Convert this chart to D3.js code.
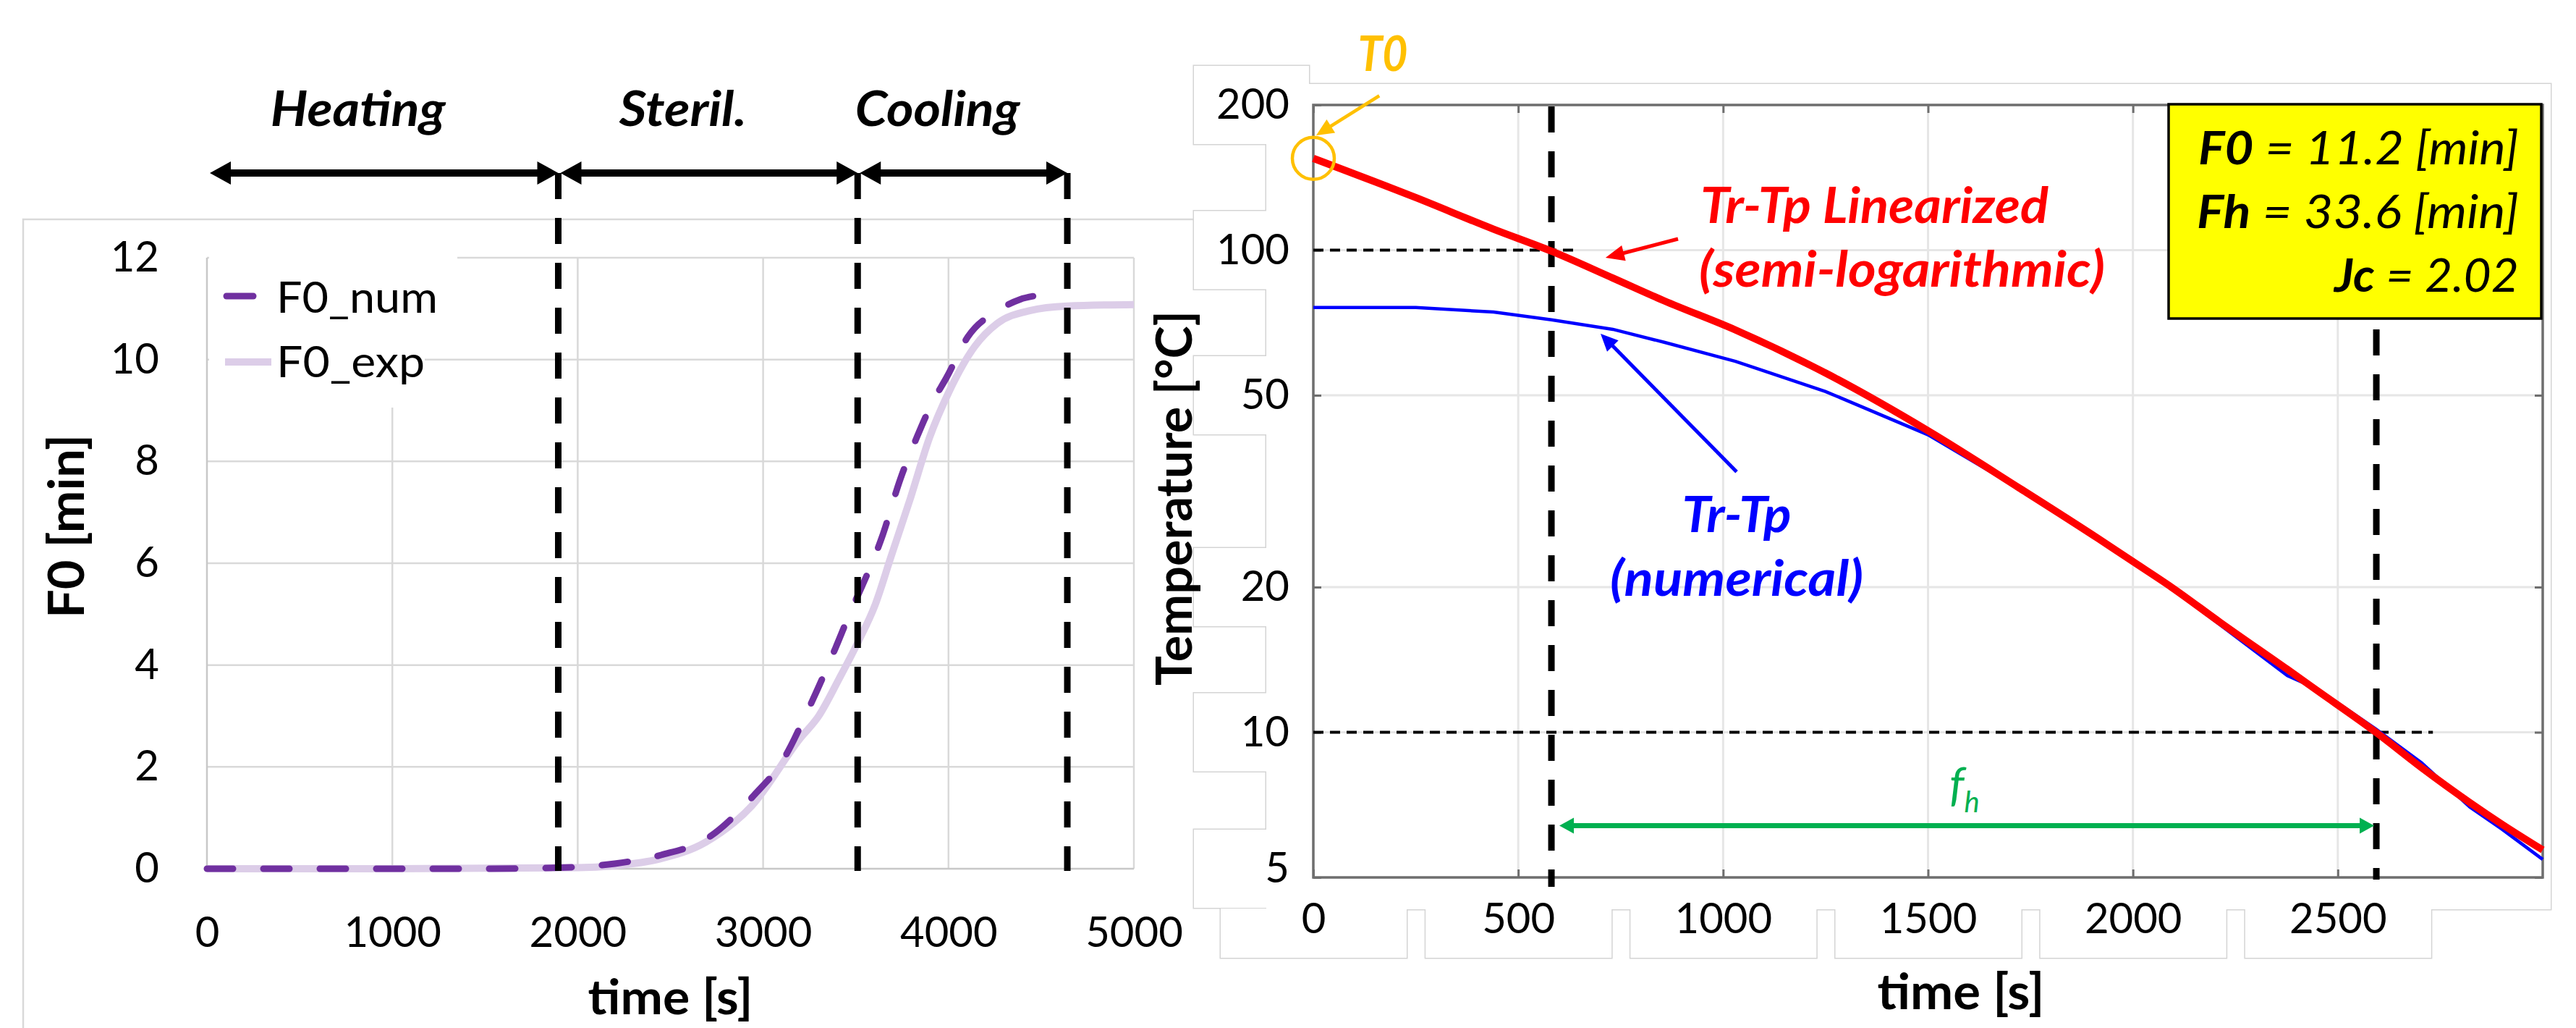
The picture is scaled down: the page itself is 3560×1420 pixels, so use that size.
<!DOCTYPE html>
<html>
<head>
<meta charset="utf-8">
<script src="https://cdn.jsdelivr.net/npm/d3@7"></script>
<style>
  body { margin: 0; background: #fff; }
</style>
</head>
<body>
<div id="chart"></div>
<script>
// ---- left panel data: F0 vs time ----
var numTime = [0, 500, 1000, 1500, 1900, 2200, 2450, 2700, 2950, 3110, 3240, 3390, 3480, 3535, 3640, 3740, 3830, 3915, 3990, 4105, 4265, 4385, 4500, 4610];
var numF0 = [0, 0, 0, 0, 0.02, 0.1, 0.27, 0.6, 1.44, 2.15, 3.1, 4.33, 5.12, 5.56, 6.5, 7.65, 8.48, 9.17, 9.65, 10.45, 10.96, 11.18, 11.27, 11.32];
var expTime = [0, 1000, 2000, 2200, 2440, 2690, 2940, 3200, 3300, 3410, 3516, 3604, 3690, 3795, 3899, 4003, 4142, 4263, 4438, 4641, 5000];
var expF0 = [0, 0, 0.02, 0.06, 0.19, 0.52, 1.24, 2.56, 3.0, 3.73, 4.48, 5.18, 6.13, 7.28, 8.48, 9.37, 10.26, 10.71, 10.96, 11.05, 11.08];
var f0Ticks = [0, 2, 4, 6, 8, 10, 12];
var leftTimeTicks = [0, 1000, 2000, 3000, 4000, 5000];
var phaseNames = ["Heating", "Steril.", "Cooling"];
var phaseBounds = [0, 1895, 3510, 4641];

// ---- right panel data: temperature difference (log) vs time ----
var tempTime = [0, 250, 440, 581, 731, 856, 1030, 1250, 1500, 1723, 1916, 2000, 2094, 2213, 2377, 2450, 2593, 2704, 2822, 2900, 3000];
var linTemp = [155, 128.5, 110.5, 99.5, 87.5, 78.5, 68.3, 55.6, 42.2, 32.1, 25.2, 22.6, 20.0, 16.9, 13.5, 12.2, 10.0, 8.45, 7.15, 6.45, 5.7];
var numTemp = [76, 76, 74.4, 71.7, 68.5, 64.4, 58.8, 50.9, 41.4, 32.0, 25.1, 22.5, 19.9, 16.7, 13.1, 12.3, 10.15, 8.65, 7.0, 6.3, 5.45];
var tempTicks = [5, 10, 20, 50, 100, 200];
var rightTimeTicks = [0, 500, 1000, 1500, 2000, 2500];
var fhBounds = [581, 2594];
var refTemps = [100, 10];
var refEnds = [646, 2732];
var statNames = ["F0", "Fh", "Jc"];
var statValues = [" = 11.2 [min]", " = 33.6 [min]", " = 2.02"];

var font = "Lato, 'Open Sans', sans-serif";

var svg = d3.select("#chart").append("svg")
  .attr("width", 3560)
  .attr("height", 1420)
  .style("font-family", font);

// arrow helper: line plus filled head(s)
function arrow(g, x1, y1, x2, y2, color, width, head, half, both) {
  var a = Math.atan2(y2 - y1, x2 - x1);
  var c = Math.cos(a), s = Math.sin(a);
  g.append("line")
    .attr("x1", both ? x1 + c * head * 0.7 : x1).attr("y1", both ? y1 + s * head * 0.7 : y1)
    .attr("x2", x2 - c * head * 0.7).attr("y2", y2 - s * head * 0.7)
    .attr("stroke", color).attr("stroke-width", width);
  var tips = both ? [[x2, y2, 1], [x1, y1, -1]] : [[x2, y2, 1]];
  tips.forEach(function (t) {
    var bx = t[0] - t[2] * c * head, by = t[1] - t[2] * s * head;
    g.append("polygon")
      .attr("points", [[t[0], t[1]], [bx - s * half, by + c * half], [bx + s * half, by - c * half]].join(" "))
      .attr("fill", color);
  });
}

// ======================= LEFT PANEL =======================
svg.append("path")
  .attr("d", "M32,1420V303H1700")
  .attr("fill", "none").attr("stroke", "#d9d9d9").attr("stroke-width", 2.5);

var xF = d3.scaleLinear().domain([0, 5000]).range([286, 1567]);
var yF = d3.scaleLinear().domain([0, 12]).range([1200, 356]);
var left = svg.append("g");

// gridlines
left.selectAll(".hgrid").data(f0Ticks.slice(1)).enter().append("line")
  .attr("x1", xF(0)).attr("x2", xF(5000))
  .attr("y1", d => yF(d)).attr("y2", d => yF(d))
  .attr("stroke", "#d9d9d9").attr("stroke-width", 2.5);
left.selectAll(".vgrid").data(leftTimeTicks.slice(1)).enter().append("line")
  .attr("x1", d => xF(d)).attr("x2", d => xF(d))
  .attr("y1", yF(12)).attr("y2", yF(0))
  .attr("stroke", "#d9d9d9").attr("stroke-width", 2.5);

// legend background hides the grid
left.append("rect").attr("x", 289).attr("y", 350).attr("width", 343).attr("height", 105).attr("fill", "#fff");
left.append("rect").attr("x", 289).attr("y", 455).attr("width", 298).attr("height", 108).attr("fill", "#fff");

// axis lines
left.append("line").attr("x1", xF(0)).attr("x2", xF(0)).attr("y1", yF(12)).attr("y2", yF(0))
  .attr("stroke", "#c8c8c8").attr("stroke-width", 2.5);
left.append("line").attr("x1", xF(0)).attr("x2", xF(5000)).attr("y1", yF(0)).attr("y2", yF(0))
  .attr("stroke", "#c8c8c8").attr("stroke-width", 2.5);

// axes labels
var axLeftY = left.append("g")
  .attr("transform", `translate(${xF(0)},0)`)
  .call(d3.axisLeft(yF).tickValues(f0Ticks).tickSize(0).tickPadding(66));
var axLeftX = left.append("g")
  .attr("transform", `translate(0,${yF(0)})`)
  .call(d3.axisBottom(xF).tickValues(leftTimeTicks).tickFormat(d3.format("d")).tickSize(0).tickPadding(67));
[axLeftY, axLeftX].forEach(function (ax) {
  ax.select(".domain").remove();
  ax.attr("font-size", 58).attr("font-family", font);
  ax.selectAll("text").attr("fill", "#000");
});

// curves
var lineF = d3.line().x(d => xF(d[0])).y(d => yF(d[1])).curve(d3.curveMonotoneX);
left.append("path").datum(d3.zip(expTime, expF0))
  .attr("d", lineF).attr("fill", "none")
  .attr("stroke", "#dccde8").attr("stroke-width", 10);
left.append("path").datum(d3.zip(numTime, numF0))
  .attr("d", lineF).attr("fill", "none")
  .attr("stroke", "#7030a0").attr("stroke-width", 9)
  .attr("stroke-linecap", "round").attr("stroke-dasharray", "36,42");

// legend
left.append("line").attr("x1", 313).attr("x2", 350).attr("y1", 409).attr("y2", 409)
  .attr("stroke", "#7030a0").attr("stroke-width", 9).attr("stroke-linecap", "round");
left.append("text").attr("x", 382).attr("y", 432).attr("font-size", 60)
  .attr("textLength", 223).attr("lengthAdjust", "spacingAndGlyphs").text("F0_num");
left.append("line").attr("x1", 311).attr("x2", 375).attr("y1", 500).attr("y2", 500)
  .attr("stroke", "#dccde8").attr("stroke-width", 10);
left.append("text").attr("x", 382).attr("y", 521).attr("font-size", 60)
  .attr("textLength", 205).attr("lengthAdjust", "spacingAndGlyphs").text("F0_exp");

// phase lines and arrows
var arrowY = 239;
left.selectAll(".phase").data(phaseBounds.slice(1)).enter().append("line")
  .attr("x1", d => xF(d)).attr("x2", d => xF(d))
  .attr("y1", arrowY).attr("y2", yF(0) + 3)
  .attr("stroke", "#000").attr("stroke-width", 9).attr("stroke-dasharray", "36,26");
phaseNames.forEach(function (name, i) {
  var a = xF(phaseBounds[i]) + (i === 0 ? 4 : 3);
  var b = xF(phaseBounds[i + 1]);
  arrow(left, a, arrowY, b, arrowY, "#000", 10, 29, 16, true);
  var widths = [242, 176, 228];
  left.append("text")
    .attr("x", (a + b) / 2 - 36).attr("y", 174)
    .attr("text-anchor", "middle")
    .attr("font-size", 66).attr("font-weight", "bold").attr("font-style", "italic")
    .attr("textLength", widths[i]).attr("lengthAdjust", "spacingAndGlyphs")
    .text(name);
});

// titles
left.append("text")
  .attr("transform", "translate(116,727) rotate(-90)")
  .attr("text-anchor", "middle").attr("font-size", 68).attr("font-weight", "bold")
  .attr("textLength", 254).attr("lengthAdjust", "spacingAndGlyphs")
  .text("F0 [min]");
left.append("text")
  .attr("x", (xF(0) + xF(5000)) / 2).attr("y", 1401)
  .attr("text-anchor", "middle").attr("font-size", 66).attr("font-weight", "bold")
  .attr("textLength", 228).attr("lengthAdjust", "spacingAndGlyphs")
  .text("time [s]");

// ======================= RIGHT PANEL =======================
var xT = d3.scaleLinear().domain([0, 3000]).range([1815, 3514]);
var yT = d3.scaleLog().domain([5, 200]).range([1212, 145]);
var right = svg.append("g");
var labelY = v => yT(v) - (v === 5 ? 12 : 0);

// white panel with label boxes (composite outline)
var boxes = [{ x: 1750, y: 116, w: 1775, h: 1140 }];
tempTicks.forEach(v => boxes.push({ x: 1650, y: labelY(v) - 54, w: 159, h: 108 }));
rightTimeTicks.forEach(v => boxes.push({ x: xT(v) - 128, y: 1255, w: 257, h: 68 }));
right.selectAll(".boxline").data(boxes).enter().append("rect")
  .attr("x", d => d.x).attr("y", d => d.y).attr("width", d => d.w).attr("height", d => d.h)
  .attr("fill", "none").attr("stroke", "#d4d4d4").attr("stroke-width", 3);
right.selectAll(".boxfill").data(boxes).enter().append("rect")
  .attr("x", d => d.x).attr("y", d => d.y).attr("width", d => d.w).attr("height", d => d.h)
  .attr("fill", "#fff");

// gridlines
right.selectAll(".vgrid").data(rightTimeTicks.slice(1)).enter().append("line")
  .attr("x1", d => xT(d)).attr("x2", d => xT(d)).attr("y1", yT(200)).attr("y2", yT(5))
  .attr("stroke", "#e6e6e6").attr("stroke-width", 3);
right.selectAll(".hgrid").data(tempTicks.slice(1, -1)).enter().append("line")
  .attr("x1", xT(0)).attr("x2", xT(3000)).attr("y1", d => yT(d)).attr("y2", d => yT(d))
  .attr("stroke", "#e6e6e6").attr("stroke-width", 3);

// plot box and inner ticks
right.append("rect")
  .attr("x", xT(0)).attr("y", yT(200)).attr("width", xT(3000) - xT(0)).attr("height", yT(5) - yT(200))
  .attr("fill", "none").attr("stroke", "#6e6e6e").attr("stroke-width", 3.5);
var axRY = right.append("g").attr("transform", `translate(${xT(0)},0)`)
  .call(d3.axisLeft(yT).tickValues(tempTicks).tickFormat(d3.format("d")).tickSizeInner(-11).tickSizeOuter(0).tickPadding(33));
var axRX = right.append("g").attr("transform", `translate(0,${yT(5)})`)
  .call(d3.axisBottom(xT).tickValues(rightTimeTicks).tickFormat(d3.format("d")).tickSizeInner(-11).tickSizeOuter(0).tickPadding(36));
var axRT = right.append("g").attr("transform", `translate(0,${yT(200)})`)
  .call(d3.axisTop(xT).tickValues(rightTimeTicks).tickFormat("").tickSizeInner(-11).tickSizeOuter(0));
var axRR = right.append("g").attr("transform", `translate(${xT(3000)},0)`)
  .call(d3.axisRight(yT).tickValues(tempTicks).tickFormat("").tickSizeInner(-11).tickSizeOuter(0));
[axRY, axRX, axRT, axRR].forEach(function (ax) {
  ax.select(".domain").remove();
  ax.attr("font-size", 58).attr("font-family", font);
  ax.selectAll("line").attr("stroke", "#6e6e6e").attr("stroke-width", 3);
  ax.selectAll("text").attr("fill", "#000");
});
axRY.selectAll(".tick").filter(d => d === 5).select("text").attr("y", -12);

// reference dashed lines
right.selectAll(".ref").data(refTemps).enter().append("line")
  .attr("x1", xT(0)).attr("x2", (d, i) => xT(refEnds[i]))
  .attr("y1", d => yT(d)).attr("y2", d => yT(d))
  .attr("stroke", "#000").attr("stroke-width", 4).attr("stroke-dasharray", "14,9");
right.append("line")
  .attr("x1", xT(fhBounds[0])).attr("x2", xT(fhBounds[0]))
  .attr("y1", yT(200) + 2).attr("y2", yT(5) + 13)
  .attr("stroke", "#000").attr("stroke-width", 9).attr("stroke-dasharray", "36,26");
right.append("line")
  .attr("x1", xT(fhBounds[1])).attr("x2", xT(fhBounds[1]))
  .attr("y1", 455).attr("y2", yT(5) + 3)
  .attr("stroke", "#000").attr("stroke-width", 9).attr("stroke-dasharray", "36,26");

// curves
var lineT = d3.line().x(d => xT(d[0])).y(d => yT(d[1]));
right.append("path").datum(d3.zip(tempTime, numTemp))
  .attr("d", lineT).attr("fill", "none").attr("stroke", "#0000ff").attr("stroke-width", 4.5);
right.append("path").datum(d3.zip(tempTime, linTemp))
  .attr("d", lineT.curve(d3.curveMonotoneX)).attr("fill", "none").attr("stroke", "#ff0000").attr("stroke-width", 10);

// fh arrow
arrow(right, xT(fhBounds[0]) + 11, yT(6.4), xT(fhBounds[1]) - 3, yT(6.4), "#00b050", 7, 20, 11, true);
var fh = right.append("text").attr("x", 2694).attr("y", 1106)
  .attr("fill", "#00b050").attr("font-style", "italic").attr("font-size", 64);
fh.append("tspan").text("f");
fh.append("tspan").attr("font-size", 40).attr("dy", 16).text("h");

// T0 marker
right.append("circle").attr("cx", xT(0)).attr("cy", yT(linTemp[0])).attr("r", 29)
  .attr("fill", "none").attr("stroke", "#ffc000").attr("stroke-width", 4.5);
arrow(right, xT(161), yT(209), xT(7), yT(173), "#ffc000", 4.5, 24, 11, false);
right.append("text").attr("x", 1911).attr("y", 98)
  .attr("text-anchor", "middle").attr("fill", "#ffc000")
  .attr("font-size", 66).attr("font-weight", "bold").attr("font-style", "italic")
  .attr("textLength", 69).attr("lengthAdjust", "spacingAndGlyphs").text("T0");

// curve annotations
arrow(right, xT(890), yT(105.5), xT(713), yT(96.4), "#ff0000", 5, 26, 11, false);
right.append("text").attr("x", 2350).attr("y", 308)
  .attr("fill", "#ff0000").attr("font-size", 68).attr("font-weight", "bold").attr("font-style", "italic")
  .attr("textLength", 481).attr("lengthAdjust", "spacingAndGlyphs").text("Tr-Tp Linearized");
right.append("text").attr("x", 2348).attr("y", 396)
  .attr("fill", "#ff0000").attr("font-size", 68).attr("font-weight", "bold").attr("font-style", "italic")
  .attr("textLength", 561).attr("lengthAdjust", "spacingAndGlyphs").text("(semi-logarithmic)");
arrow(right, xT(1033), yT(34.7), xT(701), yT(67.1), "#0000ff", 5, 24, 11, false);
right.append("text").attr("x", 2400).attr("y", 735).attr("text-anchor", "middle")
  .attr("fill", "#0000ff").attr("font-size", 68).attr("font-weight", "bold").attr("font-style", "italic")
  .attr("textLength", 151).attr("lengthAdjust", "spacingAndGlyphs").text("Tr-Tp");
right.append("text").attr("x", 2400).attr("y", 823).attr("text-anchor", "middle")
  .attr("fill", "#0000ff").attr("font-size", 68).attr("font-weight", "bold").attr("font-style", "italic")
  .attr("textLength", 350).attr("lengthAdjust", "spacingAndGlyphs").text("(numerical)");

// result box
right.append("rect").attr("x", 2997).attr("y", 144).attr("width", 515).attr("height", 296)
  .attr("fill", "#ffff00").attr("stroke", "#000").attr("stroke-width", 3.5);
var statWidths = [443, 445, 255];
statNames.forEach(function (name, i) {
  var t = right.append("text").attr("x", 3481).attr("y", 227 + i * 88)
    .attr("text-anchor", "end").attr("font-size", 64).attr("font-style", "italic")
    .attr("textLength", statWidths[i]).attr("lengthAdjust", "spacingAndGlyphs");
  t.append("tspan").attr("font-weight", "bold").text(name);
  t.append("tspan").text(statValues[i]);
});

// titles
right.append("text")
  .attr("transform", "translate(1647,688) rotate(-90)")
  .attr("text-anchor", "middle").attr("font-size", 68).attr("font-weight", "bold")
  .attr("textLength", 518).attr("lengthAdjust", "spacingAndGlyphs")
  .text("Temperature [°C]");
right.append("text")
  .attr("x", 2710).attr("y", 1394)
  .attr("text-anchor", "middle").attr("font-size", 68).attr("font-weight", "bold")
  .attr("textLength", 231).attr("lengthAdjust", "spacingAndGlyphs")
  .text("time [s]");
</script>
</body>
</html>
